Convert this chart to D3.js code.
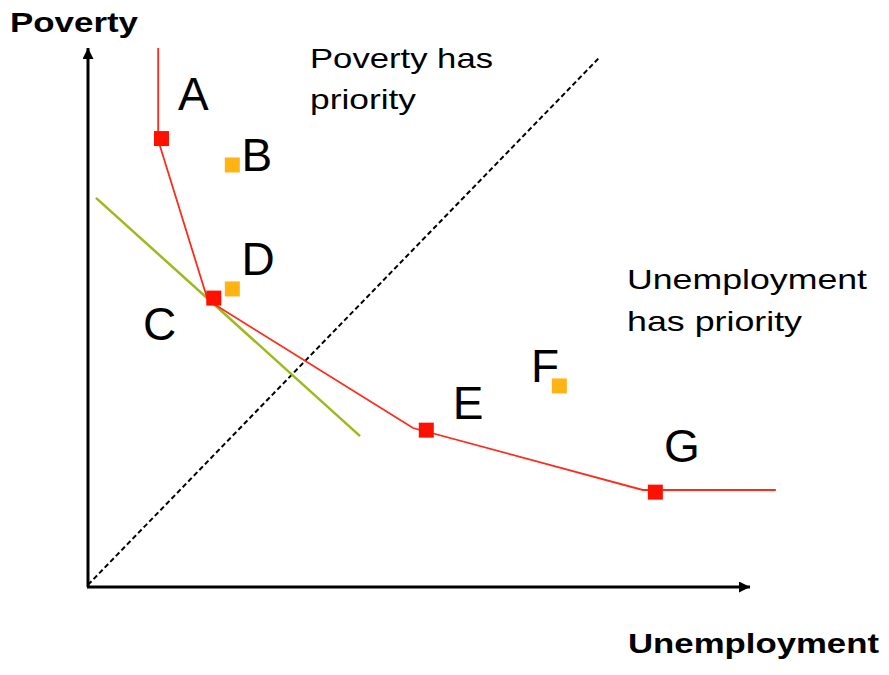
<!DOCTYPE html>
<html>
<head>
<meta charset="utf-8">
<script src="https://d3js.org/d3.v7.min.js"></script>
<style>
  body { margin: 0; background: #fff; }
  svg { display: block; font-family: "Liberation Sans", Arial, sans-serif; }
</style>
</head>
<body>
<svg id="chart" width="889" height="675"></svg>
<script>
// abstract units, 0..10 on both axes
var frontier = [[1.06, 10.0], [1.06, 8.29], [1.81, 5.32], [4.91, 2.95], [8.38, 1.80], [10.39, 1.80]];
var redNames = ['A', 'C', 'E', 'G'];
var redX = [1.11, 1.90, 5.11, 8.57];
var redY = [8.32, 5.36, 2.91, 1.76];
var orangeNames = ['B', 'D', 'F'];
var orangeX = [2.18, 2.18, 7.12];
var orangeY = [7.83, 5.53, 3.73];
var greenLine = [[0.12, 7.22], [4.11, 2.80]];
var diagonal = [[0, 0.04], [7.73, 9.83]];
// where each letter sits (data units, baseline left)
var letterNames = ['A', 'B', 'C', 'D', 'E', 'F', 'G'];
var letterX = [1.36, 2.32, 0.83, 2.32, 5.51, 6.69, 8.70];
var letterY = [8.85, 7.72, 4.58, 5.79, 3.12, 3.80, 2.32];

var svg = d3.select('#chart');

var x = d3.scaleLinear().domain([0, 10]).range([88, 750]);
var y = d3.scaleLinear().domain([0, 10]).range([587, 48]);

var line = d3.line()
    .x(function(d){ return x(d[0]); })
    .y(function(d){ return y(d[1]); });

// arrow marker for the axes
svg.append('defs').append('marker')
    .attr('id', 'arrow')
    .attr('viewBox', '0 0 10 10')
    .attr('refX', 10).attr('refY', 5)
    .attr('markerWidth', 11).attr('markerHeight', 11)
    .attr('markerUnits', 'userSpaceOnUse')
    .attr('orient', 'auto')
  .append('path')
    .attr('d', 'M0,0 L10,5 L0,10 Z')
    .attr('fill', '#000');

// axes
svg.append('line')
    .attr('x1', x(0)).attr('y1', y(0))
    .attr('x2', x(0)).attr('y2', y(10))
    .attr('stroke', '#000').attr('stroke-width', 3)
    .attr('marker-end', 'url(#arrow)');
svg.append('line')
    .attr('x1', x(0) - 1).attr('y1', y(0))
    .attr('x2', x(10)).attr('y2', y(0))
    .attr('stroke', '#000').attr('stroke-width', 3)
    .attr('marker-end', 'url(#arrow)');

// 45 degree dashed line
svg.append('path')
    .attr('d', line(diagonal))
    .attr('fill', 'none')
    .attr('stroke', '#000')
    .attr('stroke-width', 2)
    .attr('stroke-dasharray', '5,3');

// green tangent
svg.append('path')
    .attr('d', line(greenLine))
    .attr('fill', 'none')
    .attr('stroke', '#9cba1c')
    .attr('stroke-width', 2.5);

// red frontier
svg.append('path')
    .attr('d', line(frontier))
    .attr('fill', 'none')
    .attr('stroke', '#ff2a1a')
    .attr('stroke-width', 1.8);

var s = 15;
svg.selectAll('rect.red')
    .data(redNames)
  .enter().append('rect')
    .attr('class', 'red')
    .attr('x', function(d, i){ return x(redX[i]) - s / 2; })
    .attr('y', function(d, i){ return y(redY[i]) - s / 2; })
    .attr('width', s).attr('height', s)
    .attr('fill', '#ff1000');

svg.selectAll('rect.orange')
    .data(orangeNames)
  .enter().append('rect')
    .attr('class', 'orange')
    .attr('x', function(d, i){ return x(orangeX[i]) - s / 2; })
    .attr('y', function(d, i){ return y(orangeY[i]) - s / 2; })
    .attr('width', s).attr('height', s)
    .attr('fill', '#ffb414');

svg.selectAll('text.letter')
    .data(letterNames)
  .enter().append('text')
    .attr('class', 'letter')
    .attr('x', function(d, i){ return x(letterX[i]); })
    .attr('y', function(d, i){ return y(letterY[i]); })
    .attr('font-size', 46)
    .attr('fill', '#000')
    .text(function(d){ return d; });

// region captions, drawn a bit wide like the original
function caption(txt, px, py, len, bold){
    svg.append('text')
        .attr('x', px).attr('y', py)
        .attr('font-size', 28)
        .attr('font-weight', bold ? 'bold' : 'normal')
        .attr('textLength', len)
        .attr('lengthAdjust', 'spacingAndGlyphs')
        .text(txt);
}
caption('Poverty has', 310, 68, 183, false);
caption('priority', 310, 109, 106, false);
caption('Unemployment', 627, 289, 240, false);
caption('has priority', 627, 331, 175, false);
caption('Poverty', 10, 32, 128, true);
caption('Unemployment', 628, 653, 251, true);
</script>
</body>
</html>
